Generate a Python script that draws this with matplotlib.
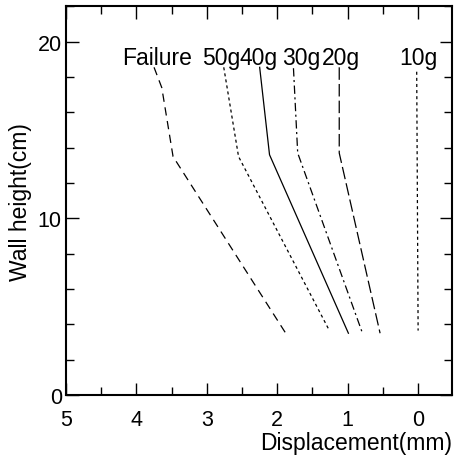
import matplotlib.pyplot as plt
from matplotlib.ticker import MultipleLocator

plt.rcParams['font.family'] = ['Liberation Sans', 'DejaVu Sans']
plt.rcParams['lines.scale_dashes'] = False

# wall height (cm) and displacement (mm) of each profile
labels = ['Failure', '50g', '40g', '30g', '20g', '10g']
heights = [
    [18.55, 17.4, 13.5, 3.5],
    [18.55, 13.5, 3.65],
    [18.55, 13.6, 3.5],
    [18.5, 13.7, 3.5],
    [18.55, 13.7, 3.5],
    [18.3, 3.65],
]
disp = [
    [3.75, 3.64, 3.48, 1.88],
    [2.76, 2.55, 1.26],
    [2.25, 2.11, 0.99],
    [1.77, 1.71, 0.79],
    [1.12, 1.12, 0.54],
    [0.02, 0.0],
]
label_x = [3.71, 2.80, 2.26, 1.66, 1.09, -0.01]
label_y = 18.72

dashes = [(6, 4), (2.2, 2.2), None, (6, 2.5, 1.5, 2.5), (9, 3), (2.2, 2.2)]

fig = plt.figure(figsize=(4.54, 4.60), dpi=100)
ax = fig.add_axes([0.1454, 0.139, 0.850, 0.845])

for h, d, ds in zip(heights, disp, dashes):
    line, = ax.plot(d, h, color='black', lw=0.9)
    if ds is not None:
        line.set_dashes(ds)

for lab, lx in zip(labels, label_x):
    ax.text(lx, label_y, lab, ha='center', va='baseline', fontsize=16.5)

ax.set_xlim(5, -0.48)
ax.set_ylim(0, 22)
ax.set_xticks([5, 4, 3, 2, 1, 0])
ax.set_yticks([0, 10, 20])
ax.xaxis.set_minor_locator(MultipleLocator(0.5))
ax.yaxis.set_minor_locator(MultipleLocator(2))
ax.tick_params(which='both', direction='in', top=True, right=True,
               labelsize=15.5, width=1)
ax.tick_params(axis='x', pad=10)
ax.tick_params(axis='y', pad=3)
ax.tick_params(which='major', length=9)
ax.tick_params(which='minor', length=6)
for s in ax.spines.values():
    s.set_linewidth(1.5)

ax.set_ylabel('Wall height(cm)', fontsize=16.5, labelpad=4)
ax.set_xlabel('Displacement(mm)', fontsize=16.5, loc='right', labelpad=1)

plt.savefig('out.png', dpi=100)
